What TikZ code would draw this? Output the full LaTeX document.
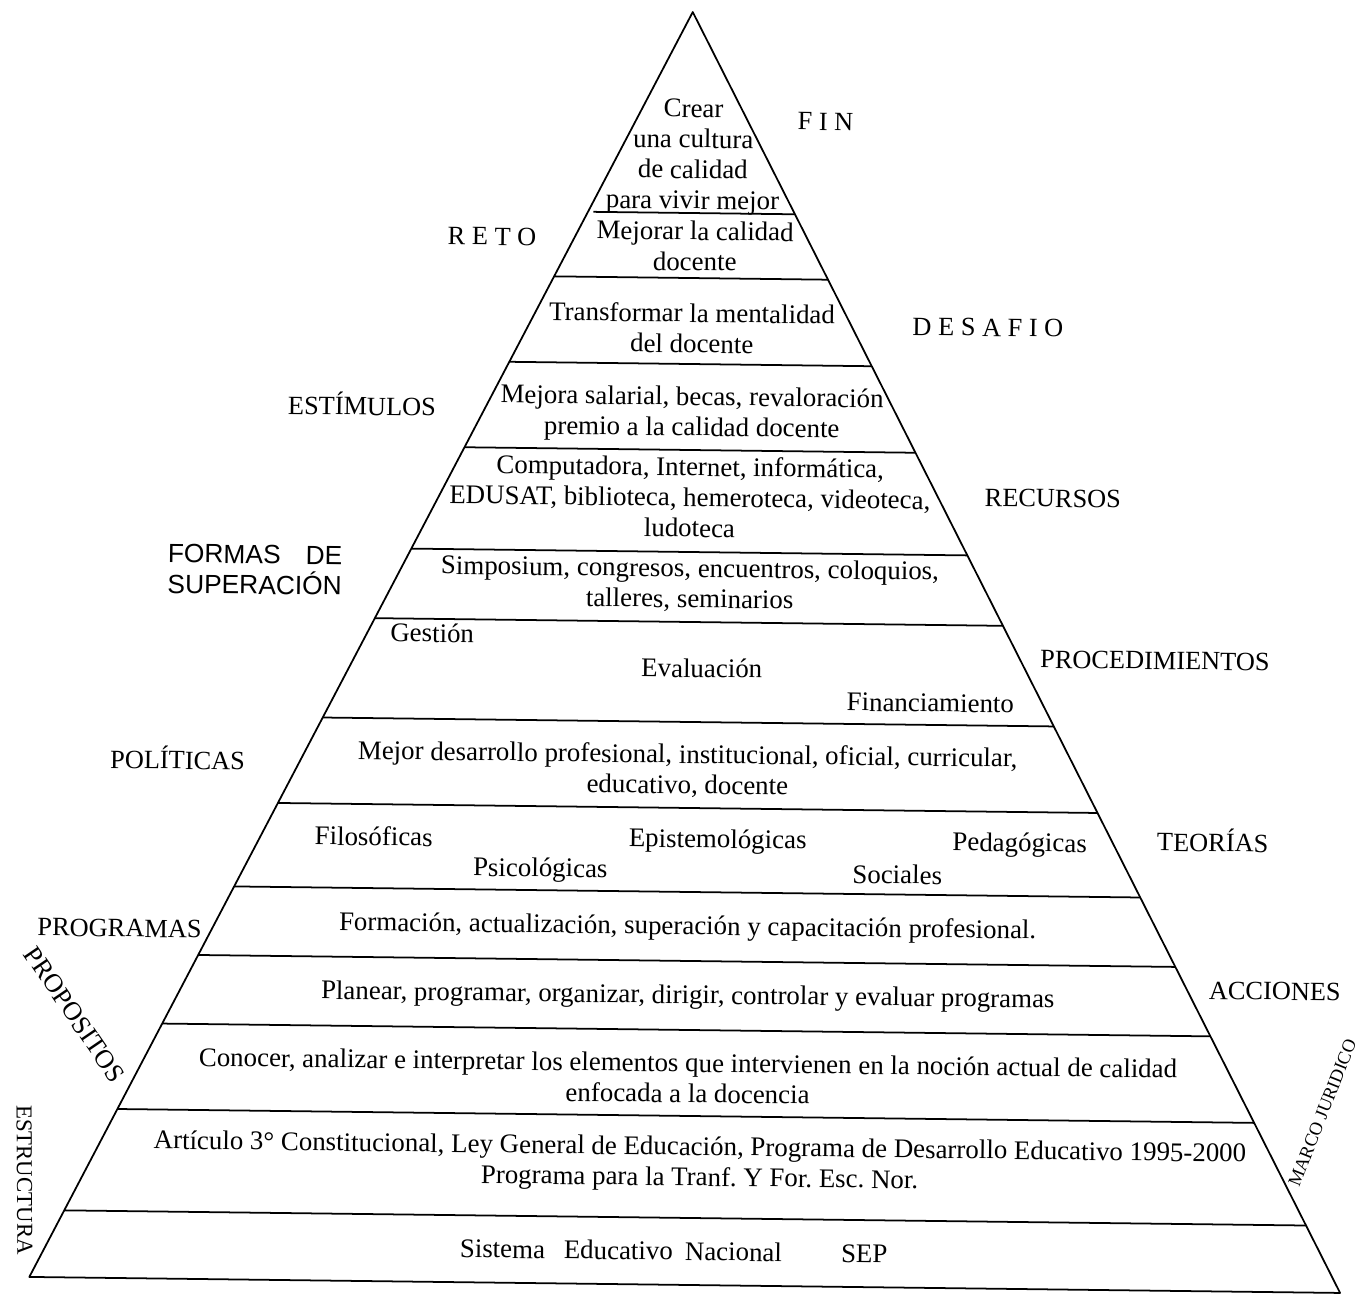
\documentclass[tikz,border=0pt]{standalone}
\usepackage{fontspec}
\setmainfont{Liberation Serif}
\newfontfamily\labelsans{Liberation Sans}
\usepackage{tikz}
\usetikzlibrary{calc}
\frenchspacing

\begin{document}
\begin{tikzpicture}[x=0.02cm, y=-0.02cm, outer sep=0pt]
          \newcommand{\bandfont}{\fontsize{15.3}{17.4}\selectfont}
          \newcommand{\tagfont}{\fontsize{15}{17.4}\selectfont}
          \newcommand{\smallfont}{\fontsize{10.5}{12}\selectfont}
          \newcommand{\tilt}{-0.7}

          \tikzstyle{band}=[
            font=\bandfont,
            align=center,
            inner sep=0pt,
            transform shape
          ]
          \tikzstyle{tag}=[
            font=\tagfont,
            inner sep=0pt,
            transform shape
          ]
          \tikzstyle{line} = [line width=1pt, draw=black, line join=round]

          \useasboundingbox (0,0) rectangle (1368,1294);

          \begin{scope}[rotate around={\tilt:(686,650)}]
          % outline
          \coordinate (apex) at (685,12);
          \coordinate (bl) at (37,1285);
          \coordinate (br) at (1348,1285);
          \draw[line] (apex) -- (bl) -- (br) -- cycle;

          % levels
          \foreach \lv in {278,364,450,552,622,722,808,892,961,1030,1116,1218}
            \draw[line] ($(apex)!{(\lv-12)/1273}!(bl)$) -- ($(apex)!{(\lv-12)/1273}!(br)$);
          \coordinate (ul) at (588,213);
          \draw[line] (ul) -- ($(apex)!{201/1273}!(br)$);

          % inside the pyramid
          \node[band] (fin) at (687,157) {Crear\\una cultura\\de calidad\\para vivir mejor};
          \node[band] (reto) at (690,246) {Mejorar la calidad\\docente};
          \node[band] (desafio) at (688,328) {Transformar la mentalidad\\del docente};
          \node[band] (estimulos) at (689,414) {Mejora salarial, becas, revaloración\\premio a la calidad docente};
          \node[band] (recursos) at (688,497) {Computadora, Internet, informática,\\EDUSAT, biblioteca, hemeroteca, videoteca,\\ludoteca};
          \node[band] (formas) at (689,585) {Simposium, congresos, encuentros, coloquios,\\talleres, seminarios};
          \node[band] (gestion) at (432,636) {Gestión};
          \node[band] (evaluacion) at (702,668) {Evaluación};
          \node[band] (financ) at (931,700) {Financiamiento};
          \node[band] (politicas) at (689,771) {Mejor desarrollo profesional, institucional, oficial, curricular,\\educativo, docente};
          \node[band] (filos) at (376,840) {Filosóficas};
          \node[band] (episte) at (720,841) {Epistemológicas};
          \node[band] (pedag) at (1022,841) {Pedagógicas};
          \node[band] (psico) at (543,872) {Psicológicas};
          \node[band] (social) at (900,872) {Sociales};
          \node[band] (programas) at (691,928) {Formación, actualización, superación y capacitación profesional.};
          \node[band] (acciones) at (692,997) {Planear, programar, organizar, dirigir, controlar y evaluar programas};
          \node[band] (propositos) at (693,1078) {Conocer, analizar e interpretar los elementos que intervienen en la noción actual de calidad\\enfocada a la docencia};
          \node[band] (marco) at (706,1164) {Artículo 3° Constitucional, Ley General de Educación, Programa de Desarrollo Educativo 1995-2000\\Programa para la Tranf. Y For. Esc. Nor.};
          \node[band] (estructura) at (681,1251) {Sistema\hspace{0.45em} Educativo\hspace{0.2em} Nacional\hspace{2.2em}SEP};

          % labels round the pyramid
          \node[tag] (lfin) at (819,120) {F I N};
          \node[tag] (lreto) at (487,239) {R E T O};
          \node[tag] (ldesafio) at (984,324) {D E S A F I O};
          \node[tag] (lestimulos) at (359,408) {ESTÍMULOS};
          \node[tag] (lrecursos) at (1051,494) {RECURSOS};
          \node[tag, font=\labelsans\tagfont, align=left] (lformas) at (254,575) {FORMAS\hspace{0.95em}DE\\SUPERACIÓN};
          \node[tag] (lproced) at (1155,655) {PROCEDIMIENTOS};
          \node[tag] (lpoliticas) at (179,764) {POLÍTICAS};
          \node[tag] (lteorias) at (1215,834) {TEORÍAS};
          \node[tag] (lprogramas) at (123,935) {PROGRAMAS};
          \node[tag] (lacciones) at (1279,984) {ACCIONES};
          \node[tag, rotate=-55] (lpropositos) at (79,1022) {PROPOSITOS};
          \node[tag, rotate=-89, font=\fontsize{13}{15}\selectfont] (lestructura) at (31,1188) {ESTRUCTURA};
          \node[tag, rotate=69, font=\smallfont] (lmarco) at (1328,1105) {MARCO JURIDICO};
          \end{scope}

        \end{tikzpicture}
\end{document}
